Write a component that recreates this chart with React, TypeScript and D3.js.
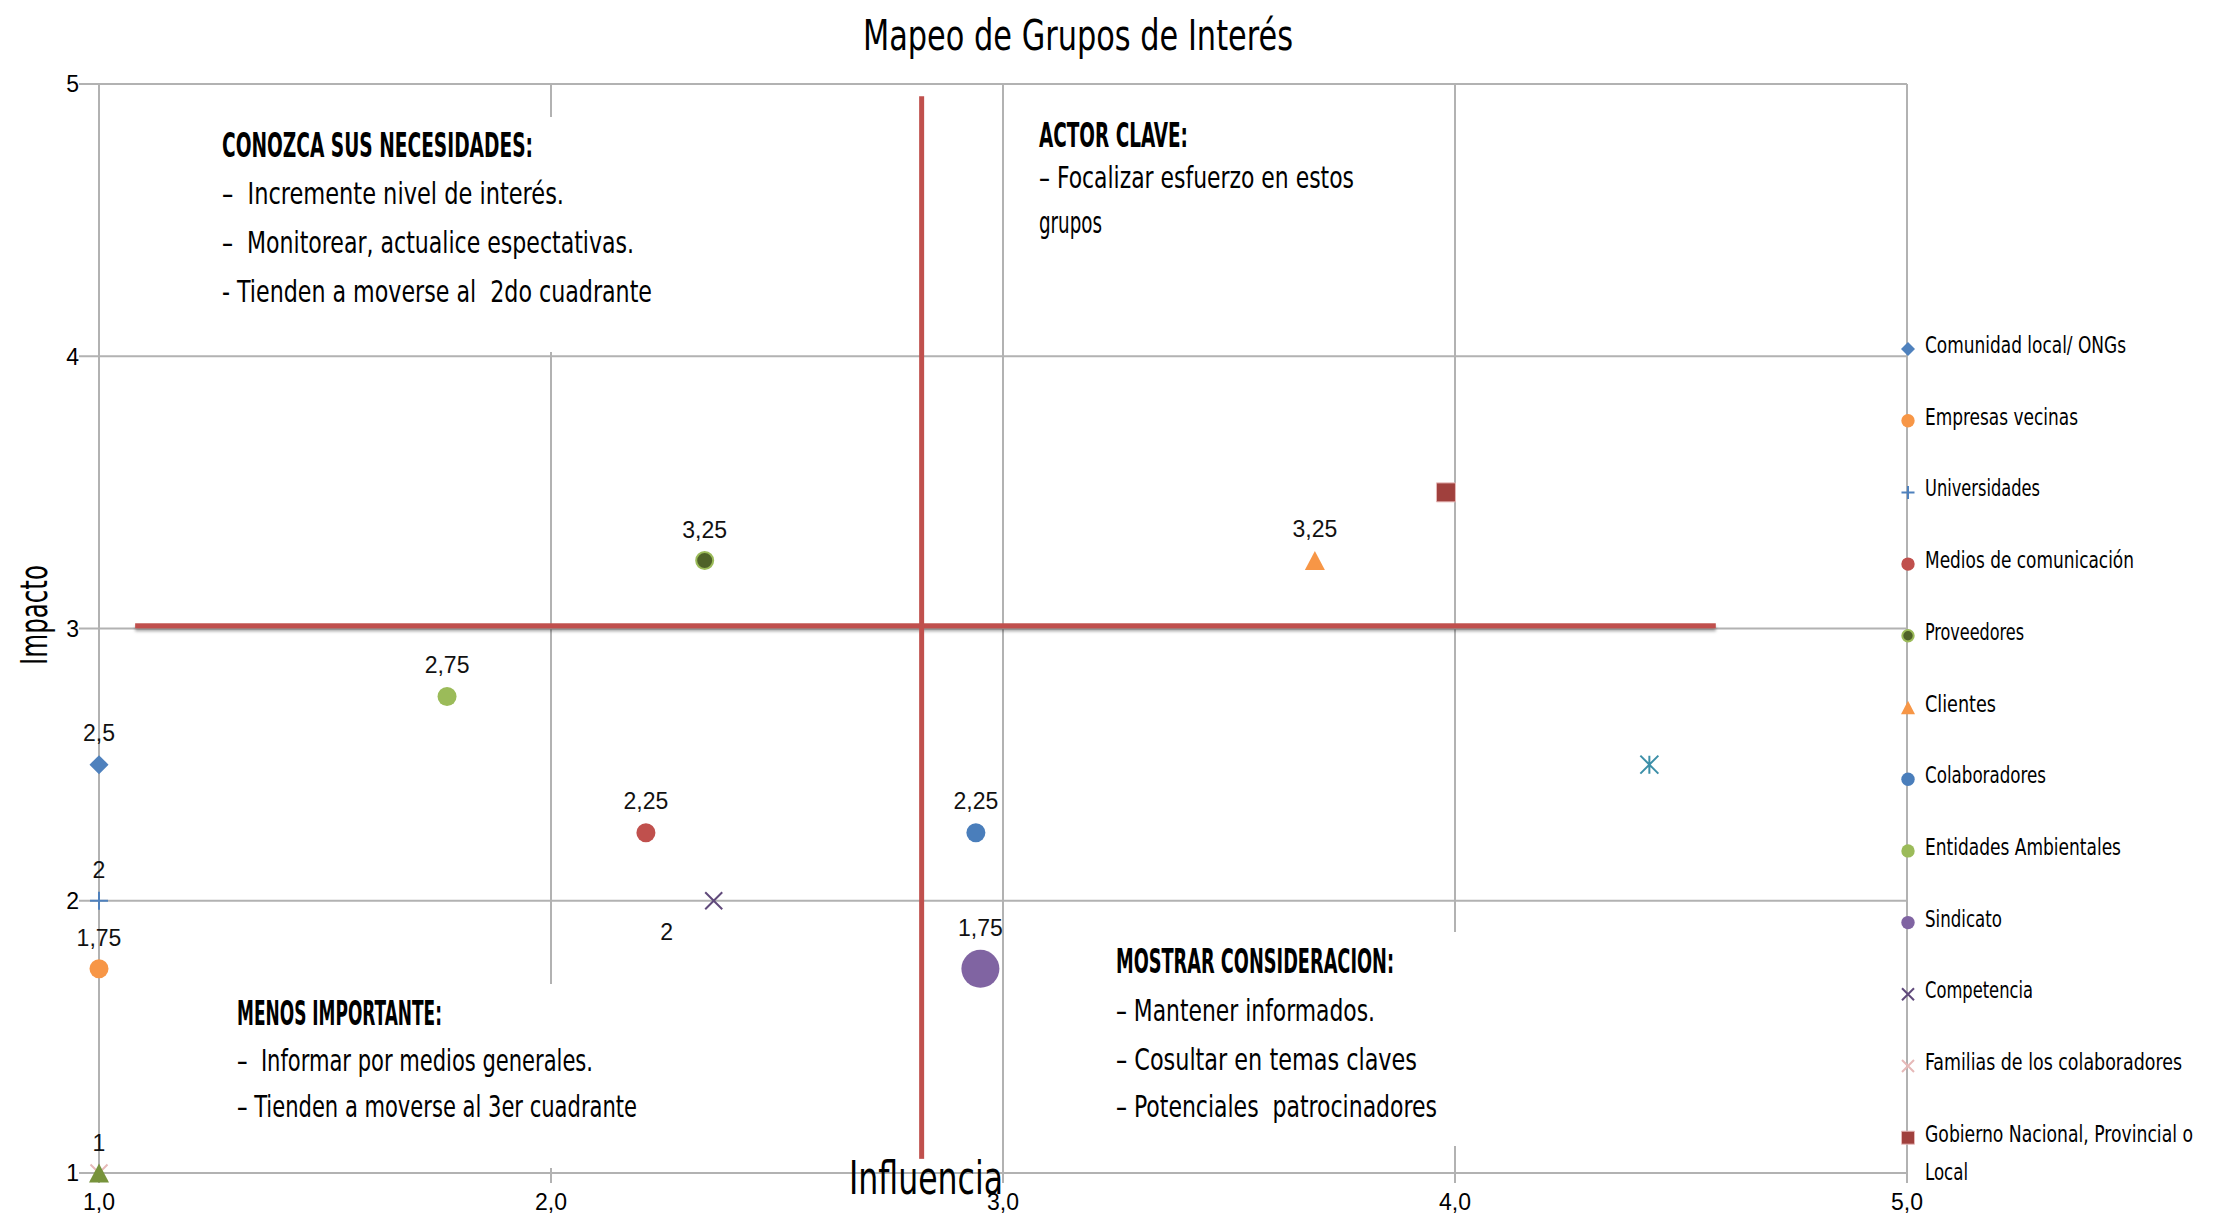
import React from "react";
import * as d3 from "d3";

// ---------------- DATA ----------------
const groups = [
  "Comunidad local/ ONGs",
  "Empresas vecinas",
  "Universidades",
  "Medios de comunicación",
  "Proveedores",
  "Clientes",
  "Colaboradores",
  "Entidades Ambientales",
  "Sindicato",
  "Competencia",
  "Familias de los colaboradores",
  "Gobierno Nacional, Provincial o Local",
  "Serie 13",
  "Serie 14",
];
const influencia = [1.0, 1.0, 1.0, 2.21, 2.34, 3.69, 2.94, 1.77, 2.95, 2.36, 1.0, 3.98, 4.43, 1.0];
const impacto = [2.5, 1.75, 2.0, 2.25, 3.25, 3.25, 2.25, 2.75, 1.75, 2.0, 1.0, 3.5, 2.5, 1.0];
const showValue = [true, true, true, true, true, true, true, true, true, true, true, false, false, false];
const inLegend = [true, true, true, true, true, true, true, true, true, true, true, true, false, false];
const xTickValues = [1, 2, 3, 4, 5];
const yTickValues = [1, 2, 3, 4, 5];
const chartTitle = "Mapeo de Grupos de Interés";
const xTitle = "Influencia";
const yTitle = "Impacto";
// quadrant divider lines (data units)
const dividerX = 2.82;
const dividerY = 3.01;

const quadrantNotes = [
  {
    header: "CONOZCA SUS NECESIDADES:",
    lines: ["–  Incremente nivel de interés.", "–  Monitorear, actualice espectativas.", "- Tienden a moverse al  2do cuadrante"],
  },
  { header: "ACTOR CLAVE:", lines: ["– Focalizar esfuerzo en estos", "grupos"] },
  { header: "MENOS IMPORTANTE:", lines: ["–  Informar por medios generales.", "– Tienden a moverse al 3er cuadrante"] },
  { header: "MOSTRAR CONSIDERACION:", lines: ["– Mantener informados.", "– Cosultar en temas claves", "– Potenciales  patrocinadores"] },
];

// ---------------- STYLE / LAYOUT ----------------
const W = 2227;
const H = 1214;
const M = { left: 99, right: 1907, top: 84, bottom: 1173 };

const seriesStyle = [
  { shape: "diamond", fill: "#4F81BD", size: 9.5, legend: 7 },
  { shape: "circle", fill: "#F79646", size: 9.5, legend: 6.7 },
  { shape: "plus", stroke: "#4F81BD", size: 9, legend: 6.5 },
  { shape: "circle", fill: "#C0504D", size: 9.5, legend: 6.7 },
  { shape: "circle", fill: "#4F6228", stroke: "#9BBB59", size: 8.5, legend: 5.7 },
  { shape: "triangle", fill: "#F79646", size: 10, legend: 7 },
  { shape: "circle", fill: "#4A7EBB", size: 9.5, legend: 6.7 },
  { shape: "circle", fill: "#9BBB59", size: 9.5, legend: 6.7 },
  { shape: "circle", fill: "#8064A2", size: 19, legend: 6.7 },
  { shape: "x", stroke: "#604A7B", size: 8.5, legend: 6 },
  { shape: "x", stroke: "#E6B9B8", size: 8.5, legend: 6 },
  { shape: "square", fill: "#A0403D", stroke: "#E6B9B8", size: 9.5, legend: 6.5 },
  { shape: "asterisk", stroke: "#3C8FA8", size: 9, legend: 6 },
  { shape: "triangle", fill: "#77933C", size: 10, legend: 7 },
];
const labelPlacement = ["above", "above", "above", "above", "above", "above", "above", "above", "above", "belowLeft", "above", "above", "above", "above"];

const NARROW = "'Liberation Sans Narrow', 'DejaVu Sans Condensed', 'Roboto Condensed', 'Liberation Sans', Arial, sans-serif";
const ARIAL = "'Liberation Sans', Arial, sans-serif";

// text box layout (pixel)
const noteLayout = [
  { bg: [205, 117, 500, 235], x: 222, base: [157, 204, 253, 302], w: [311, 342, 412, 430] },
  { bg: null, x: 1039, base: [147, 188, 233], w: [149, 315, 63] },
  { bg: [220, 984, 480, 184], x: 237, base: [1025, 1071, 1117], w: [205, 356, 400] },
  { bg: [1100, 932, 390, 214], x: 1116, base: [973, 1021, 1070, 1117], w: [278, 259, 301, 321] },
];
const legendTextW = [201, 153, 115, 209, 99, 71, 121, 196, 77, 108, 257, [268, 43]];

function markerPath(shape: string, s: number) {
  switch (shape) {
    case "diamond":
      return `M0,${-s}L${s},0L0,${s}L${-s},0Z`;
    case "square":
      return `M${-s},${-s}H${s}V${s}H${-s}Z`;
    case "triangle":
      return `M0,${-s * 0.95}L${s},${s * 0.95}L${-s},${s * 0.95}Z`;
    case "plus":
      return `M${-s},0H${s}M0,${-s}V${s}`;
    case "x":
      return `M${-s},${-s}L${s},${s}M${-s},${s}L${s},${-s}`;
    case "asterisk":
      return `M${-s},${-s}L${s},${s}M${-s},${s}L${s},${-s}M0,${-s}V${s}`;
    default:
      return "";
  }
}

function Marker({ st, s }: { st: any; s: number }) {
  if (st.shape === "circle") {
    return <circle r={s} fill={st.fill} stroke={st.stroke || "none"} strokeWidth={st.stroke ? 2 : 0} />;
  }
  const lineShape = st.shape === "plus" || st.shape === "x" || st.shape === "asterisk";
  return (
    <path
      d={markerPath(st.shape, s)}
      fill={lineShape ? "none" : st.fill}
      stroke={lineShape ? st.stroke : st.stroke || "none"}
      strokeWidth={lineShape ? 2 : 1}
    />
  );
}

const fmtComma = (v: number, f: string) => d3.format(f)(v).replace(".", ",");
const fmtValue = (v: number) => String(+v.toFixed(2)).replace(".", ",");

export default function App() {
  const x = d3.scaleLinear().domain([1, 5]).range([M.left, M.right]);
  const y = d3.scaleLinear().domain([1, 5]).range([M.bottom, M.top]);
  const grid = "#B2B2B2";

  const hx1 = x(1.08);
  const hx2 = x(4.577);
  const hy = y(dividerY);

  return (
    <svg width={W} height={H} style={{ position: "absolute", left: 0, top: 0, background: "#fff" }} xmlns="http://www.w3.org/2000/svg">
      <defs>
        <filter id="shadow" filterUnits="userSpaceOnUse" x={0} y={0} width={W} height={H}>
          <feDropShadow dx="0" dy="3" stdDeviation="1.8" floodColor="#000" floodOpacity="0.35" />
        </filter>
      </defs>
      <rect width={W} height={H} fill="#fff" />

      {/* title */}
      <text x={1078} y={50} textAnchor="middle" fontFamily={NARROW} fontSize={42} textLength={430} lengthAdjust="spacingAndGlyphs" fill="#000">
        {chartTitle}
      </text>

      {/* gridlines */}
      {yTickValues.map((v) => (
        <line key={"gy" + v} x1={M.left - 20} x2={M.right} y1={y(v)} y2={y(v)} stroke={grid} strokeWidth={2} />
      ))}
      {xTickValues.map((v) => (
        <line key={"gx" + v} x1={x(v)} x2={x(v)} y1={M.top} y2={M.bottom + 10} stroke={grid} strokeWidth={2} />
      ))}

      {/* tick labels */}
      {yTickValues.map((v) => (
        <text key={"ly" + v} x={79} y={y(v)} dy="0.36em" textAnchor="end" fontFamily={ARIAL} fontSize={23} fill="#000">
          {d3.format("d")(v)}
        </text>
      ))}
      {xTickValues.map((v) => (
        <text key={"lx" + v} x={x(v)} y={1210} textAnchor="middle" fontFamily={ARIAL} fontSize={23} fill="#000">
          {fmtComma(v, ".1f")}
        </text>
      ))}

      {/* axis title (vertical) */}
      <text transform={`translate(47,${615}) rotate(-90)`} textAnchor="middle" fontFamily={NARROW} fontSize={37} textLength={100} lengthAdjust="spacingAndGlyphs" fill="#000">
        {yTitle}
      </text>

      {/* text box backgrounds */}
      {noteLayout.map((l, i) =>
        l.bg ? <rect key={"bg" + i} x={l.bg[0]} y={l.bg[1]} width={l.bg[2]} height={l.bg[3]} fill="#fff" /> : null
      )}

      {/* quadrant notes */}
      {quadrantNotes.map((n, i) => {
        const l = noteLayout[i];
        const all = [n.header, ...n.lines];
        return (
          <g key={"note" + i}>
            {all.map((t, j) => (
              <text
                key={j}
                x={l.x}
                y={l.base[j]}
                fontFamily={NARROW}
                fontSize={j === 0 ? 33 : 31}
                fontWeight={j === 0 ? "bold" : "normal"}
                textLength={l.w[j]}
                lengthAdjust="spacingAndGlyphs"
                fill="#000"
                style={{ whiteSpace: "pre" }}
              >
                {t}
              </text>
            ))}
          </g>
        );
      })}

      {/* points */}
      {groups.map((g, i) => (
        <g key={"pt" + i} transform={`translate(${x(influencia[i])},${y(impacto[i])})`}>
          <Marker st={seriesStyle[i]} s={seriesStyle[i].size} />
        </g>
      ))}

      {/* value labels */}
      {groups.map((g, i) => {
        if (!showValue[i]) return null;
        const px = x(influencia[i]);
        const py = y(impacto[i]);
        const r = seriesStyle[i].size;
        let lx = px;
        let ly = py - (r + 22);
        if (labelPlacement[i] === "belowLeft") {
          lx = px - 47;
          ly = py + 31;
        }
        return (
          <text key={"vl" + i} x={lx} y={ly} dy="0.36em" textAnchor="middle" fontFamily={ARIAL} fontSize={23} fill="#111">
            {fmtValue(impacto[i])}
          </text>
        );
      })}

      {/* quadrant divider lines */}
      <rect x={hx1} y={hy - 2.5} width={hx2 - hx1} height={5} fill="#C0504D" filter="url(#shadow)" />
      <rect x={x(dividerX) - 2.5} y={y(4.955)} width={5} height={y(1.052) - y(4.955)} fill="#C0504D" />

      <text x={849} y={1194} fontFamily={NARROW} fontSize={46} textLength={154} lengthAdjust="spacingAndGlyphs" fill="#000">
        {xTitle}
      </text>

      {/* legend */}
      {groups.map((g, i) => {
        if (!inLegend[i]) return null;
        const ry = 349 + i * 71.7;
        const w = legendTextW[i];
        const twoLine = Array.isArray(w);
        const parts = twoLine ? ["Gobierno Nacional, Provincial o", "Local"] : [g];
        return (
          <g key={"lg" + i}>
            <g transform={`translate(1908,${ry})`}>
              <Marker st={seriesStyle[i]} s={seriesStyle[i].legend} />
            </g>
            {parts.map((p, j) => (
              <text
                key={j}
                x={1925}
                y={ry + 4 + j * 38}
                fontFamily={NARROW}
                fontSize={23}
                textLength={twoLine ? (w as number[])[j] : (w as number)}
                lengthAdjust="spacingAndGlyphs"
                fill="#000"
              >
                {p}
              </text>
            ))}
          </g>
        );
      })}
    </svg>
  );
}
